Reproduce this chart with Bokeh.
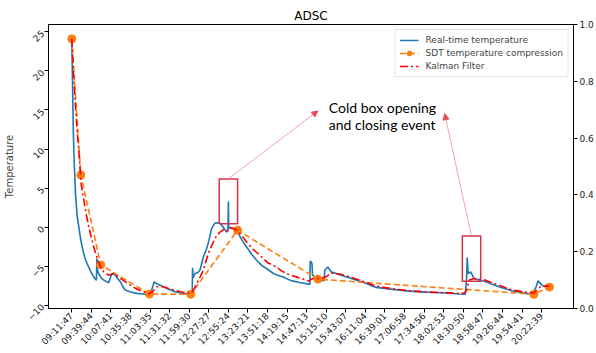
import math
from bokeh.plotting import figure
from bokeh.models import (Range1d, LinearAxis, FixedTicker, Legend, LegendItem,
                          BoxAnnotation, Arrow, NormalHead)
from bokeh.core.properties import value
from bokeh.embed import file_html
from bokeh.resources import INLINE

# ---------------- data ----------------
title_text = "ADSC"
tick_labels = ["09:11:47", "09:39:44", "10:07:41", "10:35:38", "11:03:35", "11:31:32",
               "11:59:30", "12:27:27", "12:55:24", "13:23:21", "13:51:18", "14:19:15",
               "14:47:13", "15:15:10", "15:43:07", "16:11:04", "16:39:01", "17:06:58",
               "17:34:56", "18:02:53", "18:30:50", "18:58:47", "19:26:44", "19:54:41",
               "20:22:39"]
tick_step = 100  # samples between tick labels

real_x = [0, 4, 8, 12, 19, 27, 36, 45, 53, 65, 78, 95, 112, 126, 128, 132, 137, 150, 163,
          188, 200, 206, 222, 235, 248, 260, 273, 300, 333, 370, 392, 405, 421, 430, 451,
          490, 530, 587, 615, 617, 620, 630, 645, 655, 672, 689, 700, 714, 731, 745, 757,
          770, 782, 791, 798, 800, 802, 808, 824, 847, 870, 893, 920, 944, 970, 994, 1034,
          1079, 1120, 1164, 1211, 1216, 1218, 1224, 1227, 1230, 1240, 1274, 1288, 1293,
          1308, 1325, 1376, 1444, 1495, 1554, 1639, 1724, 1809, 1893, 1978, 2010, 2017,
          2020, 2025, 2038, 2054, 2114, 2182, 2249, 2318, 2355, 2372, 2382, 2402, 2427,
          2440]
real_y = [24.1, 18.0, 12.0, 8.5, 4.25, 1.5, 0.0, -1.5, -2.55, -3.8, -4.66, -5.6, -6.37,
          -6.79, -4.03, -5.6, -5.94, -6.5, -6.79, -7.13, -6.3, -5.94, -6.15, -6.6, -7.0,
          -7.6, -8.06, -8.3, -8.48, -8.6, -8.7, -8.3, -7.0, -7.2, -7.43, -7.9, -8.3, -8.57,
          -8.6, -5.22, -6.5, -5.94, -5.8, -5.5, -3.82, -2.75, -1.8, -0.2, 0.51, 0.55, 0.51,
          0.1, -0.33, -0.64, -0.3, 3.27, -0.2, 0.0, -0.2, -0.64, -1.7, -2.55, -3.5, -4.24,
          -4.9, -5.3, -6.0, -6.4, -6.85, -7.08, -7.3, -7.3, -4.33, -4.5, -4.66, -6.15,
          -6.37, -6.79, -6.88, -5.5, -5.1, -5.73, -6.15, -6.7, -7.13, -7.72, -7.97, -8.19,
          -8.32, -8.41, -8.57, -8.6, -6.5, -3.9, -5.94, -5.73, -6.57, -7.0, -7.64, -8.15,
          -8.48, -8.57, -7.64, -6.88, -7.43, -7.77, -7.75]

sdt_x = [0, 46, 148, 397, 608, 847, 1257, 2360, 2440]
sdt_y = [24.1, 6.67, -4.84, -8.57, -8.6, -0.4, -6.66, -8.6, -7.68]

kalman_x = [0, 10, 20, 30, 36, 48, 62, 75, 87, 100, 112, 125, 137, 150, 163, 188, 214, 248,
            299, 330, 366, 392, 410, 435, 468, 510, 553, 604, 620, 638, 655, 672, 697, 723,
            740, 757, 782, 799, 816, 841, 865, 893, 925, 960, 1003, 1045, 1071, 1100, 1147,
            1214, 1220, 1232, 1274, 1299, 1325, 1376, 1444, 1495, 1554, 1639, 1724, 1809,
            1893, 1978, 2009, 2020, 2029, 2054, 2114, 2182, 2249, 2326, 2360, 2394, 2427,
            2440]
kalman_y = [24.1, 19.0, 15.0, 11.5, 9.76, 5.5, 3.4, 1.5, 0.0, -1.3, -2.55, -3.6, -4.46,
            -5.2, -5.73, -6.15, -5.94, -6.57, -7.43, -7.9, -8.28, -8.57, -8.3, -7.64, -7.64,
            -8.0, -8.28, -8.48, -8.2, -7.21, -6.4, -5.52, -3.39, -1.91, -1.1, -0.64, -0.2,
            -0.51, -0.08, -0.33, -1.0, -1.91, -2.8, -3.6, -4.6, -5.1, -5.6, -6.0, -6.37,
            -6.92, -6.7, -6.58, -6.58, -6.37, -5.86, -6.03, -6.58, -7.0, -7.55, -7.9, -8.15,
            -8.3, -8.4, -8.48, -8.41, -7.85, -6.79, -6.57, -6.79, -7.43, -8.06, -8.36, -8.41,
            -7.64, -7.52, -7.6]

# annotation (event boxes, arrows, note)
event_boxes = [(753, 847, 0.43, 6.17), (1995, 2089, -6.92, -1.15)]
event_arrows = [(799, 6.17, 1257, 14.87), (2041, -1.06, 1905, 14.52)]
note_lines = ["Cold box opening", "and closing event"]
note_x = 1313
note_y = [15.37, 13.2]

# ---------------- figure ----------------
FONT = "DejaVu Sans"
p = figure(width=596, height=353, output_backend="svg", toolbar_location=None,
           x_range=Range1d(-119, 2563), y_range=Range1d(-10.42, 25.94),
           min_border_left=48, min_border_right=21, min_border_top=24, min_border_bottom=44)
p.title.text = title_text
p.title.align = "center"
p.title.text_font = FONT
p.title.text_font_size = "12px"
p.title.text_font_style = "normal"
p.title.text_color = "#000000"
p.title.standoff = 4
p.grid.visible = False
p.outline_line_color = "#000000"
p.outline_line_width = 1
p.background_fill_color = "white"
p.border_fill_color = "white"

# axes
xa = p.xaxis[0]
xa.ticker = FixedTicker(ticks=[i * tick_step for i in range(len(tick_labels))])
xa.major_label_overrides = {i * tick_step: lab for i, lab in enumerate(tick_labels)}
xa.major_label_orientation = math.pi / 4

ya = p.yaxis[0]
yt = [-10, -5, 0, 5, 10, 15, 20, 25]
ya.ticker = FixedTicker(ticks=yt)
ya.major_label_overrides = {t: (str(t).replace("-", "\u2212")) for t in yt}
ya.major_label_orientation = math.pi / 4
ya.axis_label = "Temperature"

p.extra_y_ranges = {"right": Range1d(0, 1)}
ra = LinearAxis(y_range_name="right")
rt = [0.0, 0.2, 0.4, 0.6, 0.8, 1.0]
ra.ticker = FixedTicker(ticks=rt)
ra.major_label_overrides = {t: f"{t:.1f}" for t in rt}
p.add_layout(ra, "right")

for ax in (xa, ya, ra):
    ax.major_label_text_font = FONT
    ax.major_label_text_font_size = "9px"
    ax.major_label_text_color = "#222222"
    ax.axis_line_color = "#000000"
    ax.major_tick_line_color = "#000000"
    ax.major_tick_out = 4
    ax.major_tick_in = 0
    ax.minor_tick_out = 0
    ax.minor_tick_in = 0
    ax.major_label_standoff = 2
ya.axis_label_text_font = FONT
ya.axis_label_text_font_size = "10px"
ya.axis_label_text_font_style = "normal"
ya.axis_label_standoff = 6

# series
r_real = p.line(real_x, real_y, line_color="#1f77b4", line_width=1.6)
r_sdt_line = p.line(sdt_x, sdt_y, line_color="#ff7f0e", line_width=1.6, line_dash="6 3")
r_sdt_pts = p.scatter(sdt_x, sdt_y, size=8, fill_color="#ff7f0e", line_color="#ff7f0e")
r_kal = p.line(kalman_x, kalman_y, line_color="#ff0000", line_width=1.6, line_dash="8 3 2 3")

# event boxes and arrows
for (x0, x1, y0, y1) in event_boxes:
    p.add_layout(BoxAnnotation(left=x0, right=x1, bottom=y0, top=y1, fill_alpha=0,
                               line_color="#d9304a", line_alpha=1.0, line_width=1.5))
for (xs, ys, xe, ye) in event_arrows:
    p.add_layout(Arrow(x_start=xs, y_start=ys, x_end=xe, y_end=ye,
                       line_color="#f28c96", line_width=0.8,
                       end=NormalHead(size=6, fill_color="#e8485a", line_color="#e8485a")))
p.text(x=[note_x] * len(note_lines), y=note_y, text=note_lines,
       text_font=value("Lato"), text_font_size="14px", text_color="#000000",
       text_baseline="alphabetic", text_align="left")

legend = Legend(items=[
    LegendItem(label="Real-time temperature", renderers=[r_real]),
    LegendItem(label="SDT temperature compression", renderers=[r_sdt_line, r_sdt_pts]),
    LegendItem(label="Kalman Filter", renderers=[r_kal]),
], location="top_right")
legend.label_text_font = FONT
legend.label_text_font_size = "9px"
legend.label_height = 12
legend.glyph_height = 12
legend.glyph_width = 19
legend.spacing = 1
legend.padding = 4
legend.margin = 5
legend.label_standoff = 7
legend.border_line_color = "#cccccc"
legend.border_line_width = 1
legend.background_fill_alpha = 0.9
p.add_layout(legend)

open("out.html", "w").write(file_html(p, INLINE))
